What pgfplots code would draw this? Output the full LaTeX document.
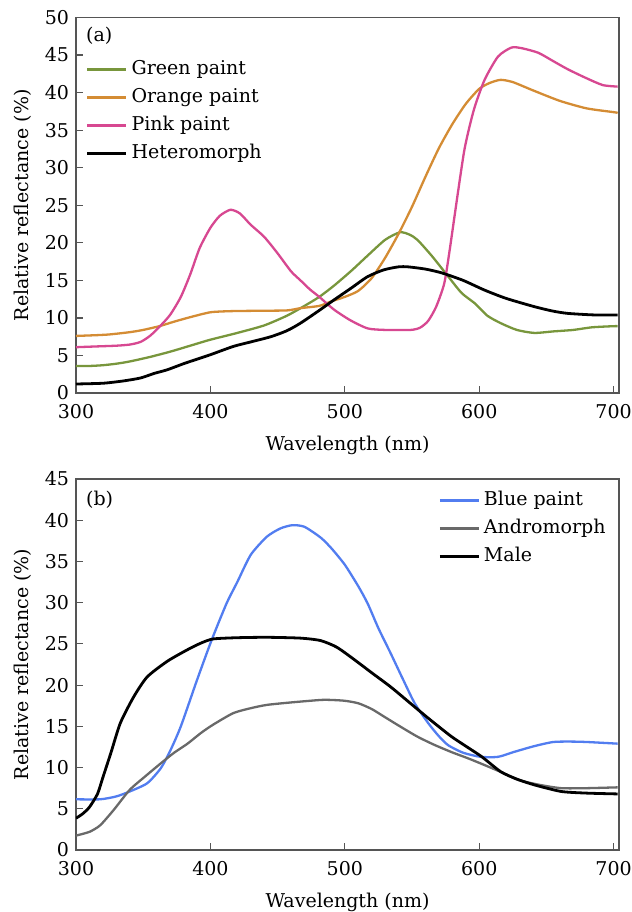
\documentclass[border=0pt]{standalone}
\usepackage{pgfplots}
\pgfplotsset{compat=1.18}
\usepackage{fontspec}
\setmainfont{DejaVu Serif}
\newcommand\ff{\fontsize{9.5pt}{11pt}\selectfont}
\definecolor{cgreen}{RGB}{120,150,60}
\definecolor{corange}{RGB}{212,140,52}
\definecolor{cpink}{RGB}{215,72,145}
\definecolor{cblue}{RGB}{82,125,240}
\definecolor{cgray}{RGB}{105,105,105}
\definecolor{frame}{RGB}{85,85,85}
\pgfplotsset{
  common/.style={
    width=271.5pt, scale only axis,
    xmin=300, xmax=704, ymin=0,
    xtick={300,400,...,700},
    tick pos=left, tick align=inside,
    major tick length=3.5pt,
    axis line style={frame, line width=0.75pt},
    tick style={frame, line width=0.6pt},
    /pgf/number format/assume math mode=true,
    tick label style={font=\ff},
    x tick label style={anchor=base, yshift=-12.5pt, inner xsep=0pt},
    label style={font=\ff},
    xlabel style={at={(axis description cs:0.5,0)}, anchor=base, yshift=-28.5pt, inner sep=0pt},
    xlabel={Wavelength (nm)},
    ylabel={Relative reflectance (\%)},
    legend cell align=left,
    legend style={draw=none, fill=none, font=\ff, inner sep=0pt,
      nodes={inner sep=1pt, text height=7pt, text depth=2pt},
      row sep=3pt, column sep=1pt},
    legend image code/.code={\draw[##1, line width=1.2pt] (0pt,0pt) -- (19.5pt,0pt);},
    every axis plot/.append style={smooth, tension=0.4},
  }
}
\begin{document}
\begin{tikzpicture}
\path (-38pt,196.5pt) rectangle (278pt,-259.5pt);
\begin{axis}[common, at={(0,0)}, anchor=south west,
  height=187.75pt, ymax=50, ytick={0,5,...,50},
  legend style={at={(rel axis cs:0.018,0.892)}, anchor=north west}]
\addplot[cgreen, line width=1.15pt] coordinates {
(300,3.6)(310,3.6)(320,3.7)(330,3.9)(340,4.2)(355,4.8)(370,5.5)(385,6.3)(400,7.1)(420,8.0)(440,9.0)(457,10.3)(470,11.6)(481,12.8)(492,14.3)(505,16.3)(517,18.3)(530,20.4)(541,21.4)(548,21.1)(554,20.4)(565,18.2)(577,15.5)(587,13.3)(597,11.9)(606,10.3)(616,9.3)(628,8.4)(641,8.0)(655,8.2)(670,8.4)(684,8.75)(700,8.9)(703,8.9)};
\addlegendentry{Green paint}
\addplot[corange, line width=1.15pt] coordinates {
(300,7.6)(315,7.7)(325,7.8)(340,8.1)(350,8.4)(362,8.9)(373,9.5)(385,10.1)(400,10.75)(415,10.9)(435,10.95)(457,11.0)(467,11.3)(481,11.6)(490,12.2)(500,12.8)(510,13.6)(520,15.3)(530,18.0)(540,21.2)(550,24.8)(560,28.8)(570,32.6)(580,35.8)(590,38.5)(600,40.5)(608,41.3)(616,41.7)(625,41.4)(640,40.3)(660,38.9)(680,37.9)(700,37.4)(703,37.3)};
\addlegendentry{Orange paint}
\addplot[cpink, line width=1.15pt] coordinates {
(300,6.1)(315,6.2)(330,6.3)(340,6.45)(348,6.8)(355,7.6)(362,8.8)(370,10.4)(378,12.8)(385,15.8)(392,19.3)(400,22.0)(407,23.6)(415,24.4)(422,23.9)(430,22.4)(440,20.8)(450,18.6)(460,16.2)(467,15.0)(474,13.8)(481,12.8)(492,11.1)(504,9.7)(517,8.6)(530,8.4)(549,8.4)(556,8.7)(562,9.6)(568,11.5)(574,14.6)(578,19)(582,24)(589,32.4)(596,37.7)(604,41.7)(614,44.8)(624,46.0)(632,45.9)(644,45.3)(655,44.2)(666,43.1)(680,41.9)(692,41.0)(703,40.8)};
\addlegendentry{Pink paint}
\addplot[black, line width=1.4pt] coordinates {
(300,1.2)(320,1.3)(335,1.6)(348,2.0)(358,2.6)(368,3.1)(380,3.9)(390,4.5)(400,5.1)(417,6.2)(430,6.8)(445,7.5)(457,8.3)(467,9.3)(481,11.0)(492,12.4)(505,14.0)(517,15.5)(529,16.4)(540,16.8)(547,16.8)(560,16.5)(572,16.0)(588,15.0)(604,13.7)(620,12.6)(641,11.5)(655,10.9)(666,10.6)(685,10.4)(703,10.4)};
\addlegendentry{Heteromorph}
\node[font=\ff, anchor=west, inner sep=0pt] at (rel axis cs:0.018,0.951) {(a)};
\end{axis}
\begin{axis}[common, at={(0,-43pt)}, anchor=north west,
  height=185.5pt, ymax=45, ytick={0,5,...,45},
  legend style={at={(rel axis cs:0.667,0.973)}, anchor=north west}]
\addplot[cblue, line width=1.15pt] coordinates {
(300,6.15)(318,6.15)(330,6.5)(340,7.1)(353,8.1)(363,9.9)(370,12.0)(378,15.0)(390,20.6)(401,25.5)(412,29.9)(420,32.5)(430,35.8)(442,38.0)(452,39.0)(461,39.4)(470,39.2)(482,37.9)(490,36.6)(500,34.6)(510,32.0)(517,29.9)(525,26.9)(534,23.9)(543,20.8)(552,17.8)(562,15.4)(570,13.8)(577,12.7)(588,11.8)(601,11.3)(614,11.3)(626,11.9)(641,12.6)(655,13.1)(668,13.15)(680,13.1)(703,12.9)};
\addlegendentry{Blue paint}
\addplot[cgray, line width=1.15pt] coordinates {
(300,1.75)(310,2.2)(318,3.0)(328,4.85)(340,7.3)(352,9.0)(363,10.5)(373,11.8)(383,12.9)(393,14.2)(402,15.2)(417,16.6)(430,17.2)(442,17.6)(460,17.9)(482,18.2)(490,18.2)(500,18.1)(510,17.8)(520,17.1)(529,16.2)(541,15.0)(554,13.75)(566,12.8)(579,11.9)(592,11.1)(604,10.3)(617,9.4)(629,8.5)(645,7.9)(661,7.5)(680,7.5)(703,7.6)};
\addlegendentry{Andromorph}
\addplot[black, line width=1.4pt] coordinates {
(300,3.85)(305,4.4)(310,5.2)(316,6.8)(320,8.8)(326,11.8)(333,15.4)(343,18.6)(353,21.0)(368,22.9)(383,24.3)(393,25.1)(402,25.6)(420,25.75)(442,25.8)(467,25.7)(482,25.4)(494,24.6)(507,23.1)(520,21.5)(534,19.8)(548,17.9)(562,16.0)(579,13.8)(590,12.6)(602,11.3)(616,9.5)(628,8.6)(641,7.9)(661,7.1)(680,6.9)(703,6.8)};
\addlegendentry{Male}
\node[font=\ff, anchor=west, inner sep=0pt] at (rel axis cs:0.018,0.943) {(b)};
\end{axis}
\end{tikzpicture}
\end{document}
